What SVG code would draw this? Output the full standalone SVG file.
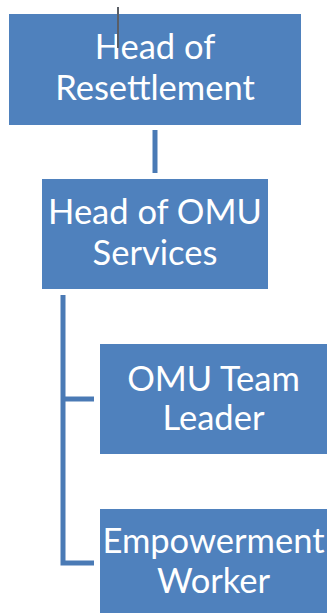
<svg xmlns="http://www.w3.org/2000/svg" width="329" height="613" viewBox="0 0 329 613">
  <style>
    .box { fill: #4F81BD; }
    .label { font-family: Lato, "Open Sans", "Liberation Sans", sans-serif; font-size: 34.5px; fill: #FFFFFF; text-anchor: middle; }
    .link { fill: none; stroke: #4A7AB5; stroke-width: 5; }
  </style>
  <rect width="329" height="613" fill="#FFFFFF"/>
  <g id="connectors">
    <line class="link" x1="155" y1="130" x2="155" y2="173" stroke="#3E6A9E"/>
    <path class="link" d="M63 295 V563 H94"/>
    <line class="link" x1="63" y1="399" x2="94" y2="399"/>
  </g>
  <g id="head-of-resettlement">
    <rect class="box" x="9" y="14" width="292" height="111"/>
    <text class="label" x="155" y="59">Head of</text>
    <text class="label" x="155" y="100">Resettlement</text>
  </g>
  <line x1="118" y1="7" x2="118" y2="48" stroke="#5A5E66" stroke-width="2"/>
  <g id="head-of-omu-services">
    <rect class="box" x="42" y="179" width="226" height="110"/>
    <text class="label" x="155" y="224">Head of OMU</text>
    <text class="label" x="155" y="265">Services</text>
  </g>
  <g id="omu-team-leader">
    <rect class="box" x="100" y="344" width="227" height="110"/>
    <text class="label" x="213.5" y="391">OMU Team</text>
    <text class="label" x="213.5" y="430">Leader</text>
  </g>
  <g id="empowerment-worker">
    <rect class="box" x="100" y="509" width="227" height="104"/>
    <text class="label" x="213.5" y="553">Empowerment</text>
    <text class="label" x="213.5" y="593">Worker</text>
  </g>
</svg>
